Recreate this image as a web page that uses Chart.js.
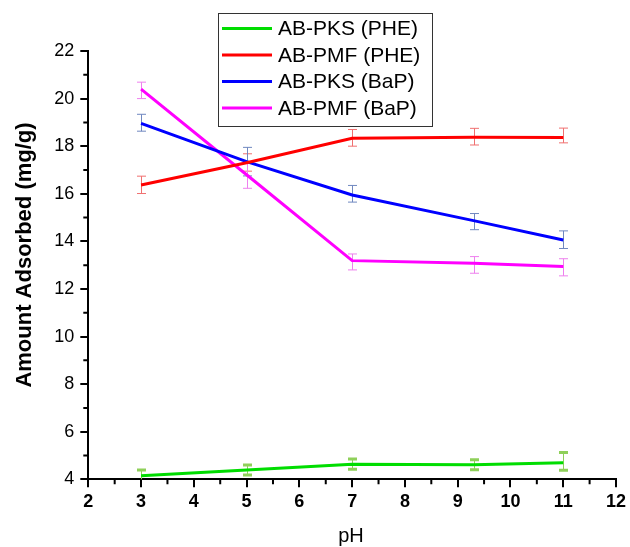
<!DOCTYPE html>
<html><head><meta charset="utf-8">
<script src="https://cdn.jsdelivr.net/npm/chart.js@4.4.0/dist/chart.umd.min.js"></script>
<style>html,body{margin:0;padding:0;background:#fff}</style>
</head><body>
<canvas id="c" width="630" height="547"></canvas>
<script>
// ---- data ----
const phValues = [3, 5, 7, 9.3, 11];
const seriesLabels = ['AB-PKS (PHE)', 'AB-PMF (PHE)', 'AB-PKS (BaP)', 'AB-PMF (BaP)'];

const pksPhe = [4.15, 4.39, 4.63, 4.61, 4.70];
const pksPheErrUp = [0.24, 0.21, 0.22, 0.21, 0.43];
const pksPheErrDown = [0.24, 0.21, 0.21, 0.21, 0.32];

const pmfPhe = [16.37, 17.30, 18.33, 18.38, 18.36];
const pmfPheErrUp = [0.37, 0.38, 0.37, 0.37, 0.40];
const pmfPheErrDown = [0.36, 0.35, 0.33, 0.33, 0.22];

const pksBap = [18.96, 17.35, 15.95, 14.87, 14.06];
const pksBapErrUp = [0.38, 0.60, 0.40, 0.30, 0.38];
const pksBapErrDown = [0.33, 0.60, 0.30, 0.38, 0.36];

const pmfBap = [20.40, 16.80, 13.19, 13.08, 12.94];
const pmfBapErrUp = [0.29, 0.55, 0.28, 0.28, 0.33];
const pmfBapErrDown = [0.40, 0.57, 0.39, 0.42, 0.39];

const xTicksMinMax = [2, 12];
const yTicksMinMax = [4, 22];

const lineColors = ['#00dd00', '#ff0000', '#0000ff', '#ff00ff'];
const errColors = ['#8fd05a', '#f07070', '#7088c0', '#ee80ee'];

const FONT = '"Liberation Sans", Arial, sans-serif';

function pts(ys) { return phValues.map((x, i) => ({ x: x, y: ys[i] })); }

const values = [pksPhe, pmfPhe, pksBap, pmfBap];
const errUp = [pksPheErrUp, pmfPheErrUp, pksBapErrUp, pmfBapErrUp];
const errDown = [pksPheErrDown, pmfPheErrDown, pksBapErrDown, pmfBapErrDown];

const datasets = values.map((v, i) => ({
  label: seriesLabels[i],
  data: pts(v),
  showLine: true,
  borderColor: lineColors[i],
  backgroundColor: lineColors[i],
  borderWidth: 3,
  pointRadius: 0,
  tension: 0,
  errUp: errUp[i],
  errDown: errDown[i],
  errColor: errColors[i],
  thickCaps: i === 0
}));

const errorBarPlugin = {
  id: 'errorBars',
  beforeDatasetsDraw(chart) {
    const ctx = chart.ctx, xs = chart.scales.x, ys = chart.scales.y, a = chart.chartArea;
    ctx.save();
    ctx.beginPath();
    ctx.rect(a.left, a.top - 20, a.right - a.left, a.bottom - a.top + 20);
    ctx.clip();
    chart.data.datasets.forEach(ds => {
      ds.data.forEach((p, i) => {
        const px = Math.round(xs.getPixelForValue(p.x)) + 0.5;
        const yt = ys.getPixelForValue(p.y + ds.errUp[i]);
        const yb = ys.getPixelForValue(p.y - ds.errDown[i]);
        ctx.strokeStyle = ds.errColor;
        ctx.lineWidth = 1;
        ctx.beginPath();
        ctx.moveTo(px, yt); ctx.lineTo(px, yb);
        ctx.stroke();
        ctx.lineWidth = ds.thickCaps ? 3 : 1;
        ctx.beginPath();
        ctx.moveTo(px - 4.5, yt); ctx.lineTo(px + 4.5, yt);
        ctx.moveTo(px - 4.5, yb); ctx.lineTo(px + 4.5, yb);
        ctx.stroke();
      });
    });
    ctx.restore();
  }
};

const decorPlugin = {
  id: 'decor',
  afterDraw(chart) {
    const ctx = chart.ctx, xs = chart.scales.x, ys = chart.scales.y, a = chart.chartArea;
    ctx.save();
    // minor ticks
    ctx.strokeStyle = '#000';
    ctx.lineWidth = 2;
    ctx.beginPath();
    for (let v = xTicksMinMax[0] + 0.5; v < xTicksMinMax[1]; v += 1) {
      const px = xs.getPixelForValue(v);
      ctx.moveTo(px, a.bottom); ctx.lineTo(px, a.bottom + 5);
    }
    for (let v = yTicksMinMax[0] + 1; v < yTicksMinMax[1]; v += 2) {
      const py = ys.getPixelForValue(v);
      ctx.moveTo(a.left, py); ctx.lineTo(a.left - 5, py);
    }
    ctx.stroke();

    // axis titles
    ctx.fillStyle = '#000';
    ctx.textAlign = 'center';
    ctx.textBaseline = 'alphabetic';
    ctx.font = '20px ' + FONT;
    ctx.fillText('pH', 351, 542);
    ctx.save();
    ctx.translate(31, 255);
    ctx.rotate(-Math.PI / 2);
    ctx.font = 'bold 22px ' + FONT;
    ctx.fillText('Amount Adsorbed (mg/g)', 0, 0);
    ctx.restore();

    // legend
    const bx = 218, by = 13, bw = 214, bh = 113;
    ctx.fillStyle = '#fff';
    ctx.fillRect(bx, by, bw, bh);
    ctx.strokeStyle = '#333';
    ctx.lineWidth = 1;
    ctx.strokeRect(bx + 0.5, by + 0.5, bw, bh);
    const rows = [28.5, 55, 81.5, 108];
    ctx.font = '21px ' + FONT;
    ctx.textAlign = 'left';
    ctx.textBaseline = 'middle';
    chart.data.datasets.forEach((ds, i) => {
      ctx.strokeStyle = ds.borderColor;
      ctx.lineWidth = 3;
      ctx.beginPath();
      ctx.moveTo(222, rows[i]); ctx.lineTo(272, rows[i]);
      ctx.stroke();
      ctx.fillStyle = '#000';
      ctx.fillText(ds.label, 278, rows[i] + 1);
    });
    ctx.restore();
  }
};

new Chart(document.getElementById('c'), {
  type: 'scatter',
  data: { datasets: datasets },
  options: {
    responsive: false,
    animation: false,
    devicePixelRatio: 1,
    layout: { padding: { left: 0, top: 51, right: 11.7, bottom: 0 } },
    plugins: { legend: { display: false }, tooltip: { enabled: false } },
    scales: {
      x: {
        type: 'linear',
        min: xTicksMinMax[0], max: xTicksMinMax[1],
        afterFit(s) { s.height = 547 - 51 - 428.3; },
        border: { display: true, color: '#000', width: 2 },
        grid: { display: true, drawOnChartArea: false, drawTicks: true, tickLength: 8, color: '#000', lineWidth: 2 },
        ticks: { stepSize: 1, color: '#000', padding: 4, font: { family: FONT, size: 18, weight: 'bold' } }
      },
      y: {
        type: 'linear',
        min: yTicksMinMax[0], max: yTicksMinMax[1],
        afterFit(s) { s.width = 88.3; },
        border: { display: true, color: '#000', width: 2 },
        grid: { display: true, drawOnChartArea: false, drawTicks: true, tickLength: 8, color: '#000', lineWidth: 2 },
        ticks: { stepSize: 2, color: '#000', padding: 6, font: { family: FONT, size: 18 } }
      }
    }
  },
  plugins: [errorBarPlugin, decorPlugin]
});
</script>
</body></html>
